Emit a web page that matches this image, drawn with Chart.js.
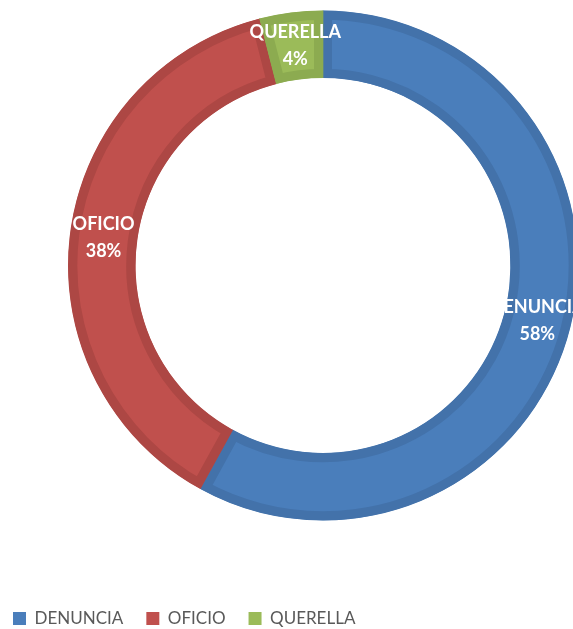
<!DOCTYPE html>
<html>
<head>
<meta charset="utf-8">
<script src="https://cdn.jsdelivr.net/npm/chart.js@4.4.1/dist/chart.umd.min.js"></script>
<style>
  html, body { margin: 0; padding: 0; background: #fff; overflow: hidden; width: 573px; height: 629px; }
  /* el lienzo es mas ancho que la ventana: el anillo queda cortado a la derecha como en el original */
  #wrap { position: absolute; left: -10px; top: -56px; width: 666px; height: 693px; }
</style>
</head>
<body>
<div id="wrap"><canvas id="donut"></canvas></div>
<script>
// datos del grafico
const categorias = ['DENUNCIA', 'OFICIO', 'QUERELLA'];
const valores = [58, 38, 4];
const colores = ['#4a7ebb', '#c0504d', '#9bbb59'];
const bordes = ['#4372aa', '#ad4744', '#8cab50'];

// etiquetas dentro de cada segmento (nombre + porcentaje)
const etiquetasPlugin = {
    id: 'etiquetas',
    afterDatasetsDraw(chart) {
        const ctx = chart.ctx;
        const meta = chart.getDatasetMeta(0);
        const total = valores.reduce((a, b) => a + b, 0);
        ctx.save();
        ctx.fillStyle = '#ffffff';
        ctx.font = 'bold 18px Lato, "Liberation Sans", sans-serif';
        ctx.textAlign = 'center';
        ctx.textBaseline = 'middle';
        meta.data.forEach((arc, i) => {
            const pos = arc.tooltipPosition();
            const pct = Math.round(valores[i] / total * 100) + '%';
            ctx.fillText(categorias[i], pos.x, pos.y - 13.5);
            ctx.fillText(pct, pos.x, pos.y + 13.5);
        });
        ctx.restore();
    }
};

new Chart(document.getElementById('donut').getContext('2d'), {
    type: 'doughnut',
    data: {
        labels: categorias,
        datasets: [{
            data: valores,
            backgroundColor: colores,
            borderColor: bordes,
            borderWidth: 9,
            borderAlign: 'inner',
            radius: 255,
            cutout: '73.5%'
        }]
    },
    options: {
        responsive: true,
        maintainAspectRatio: false,
        animation: false,
        layout: { padding: 0 },
        plugins: {
            tooltip: { enabled: false },
            legend: {
                position: 'bottom',
                align: 'start',
                labels: {
                    boxWidth: 13,
                    boxHeight: 13,
                    padding: 23,
                    color: '#595959',
                    font: { family: 'Lato, "Liberation Sans", sans-serif', size: 17 },
                    generateLabels(chart) {
                        return Chart.overrides.doughnut.plugins.legend.labels.generateLabels(chart)
                            .map(l => ({ ...l, lineWidth: 0, strokeStyle: l.fillStyle }));
                    }
                }
            }
        }
    },
    plugins: [etiquetasPlugin]
});
</script>
</body>
</html>
